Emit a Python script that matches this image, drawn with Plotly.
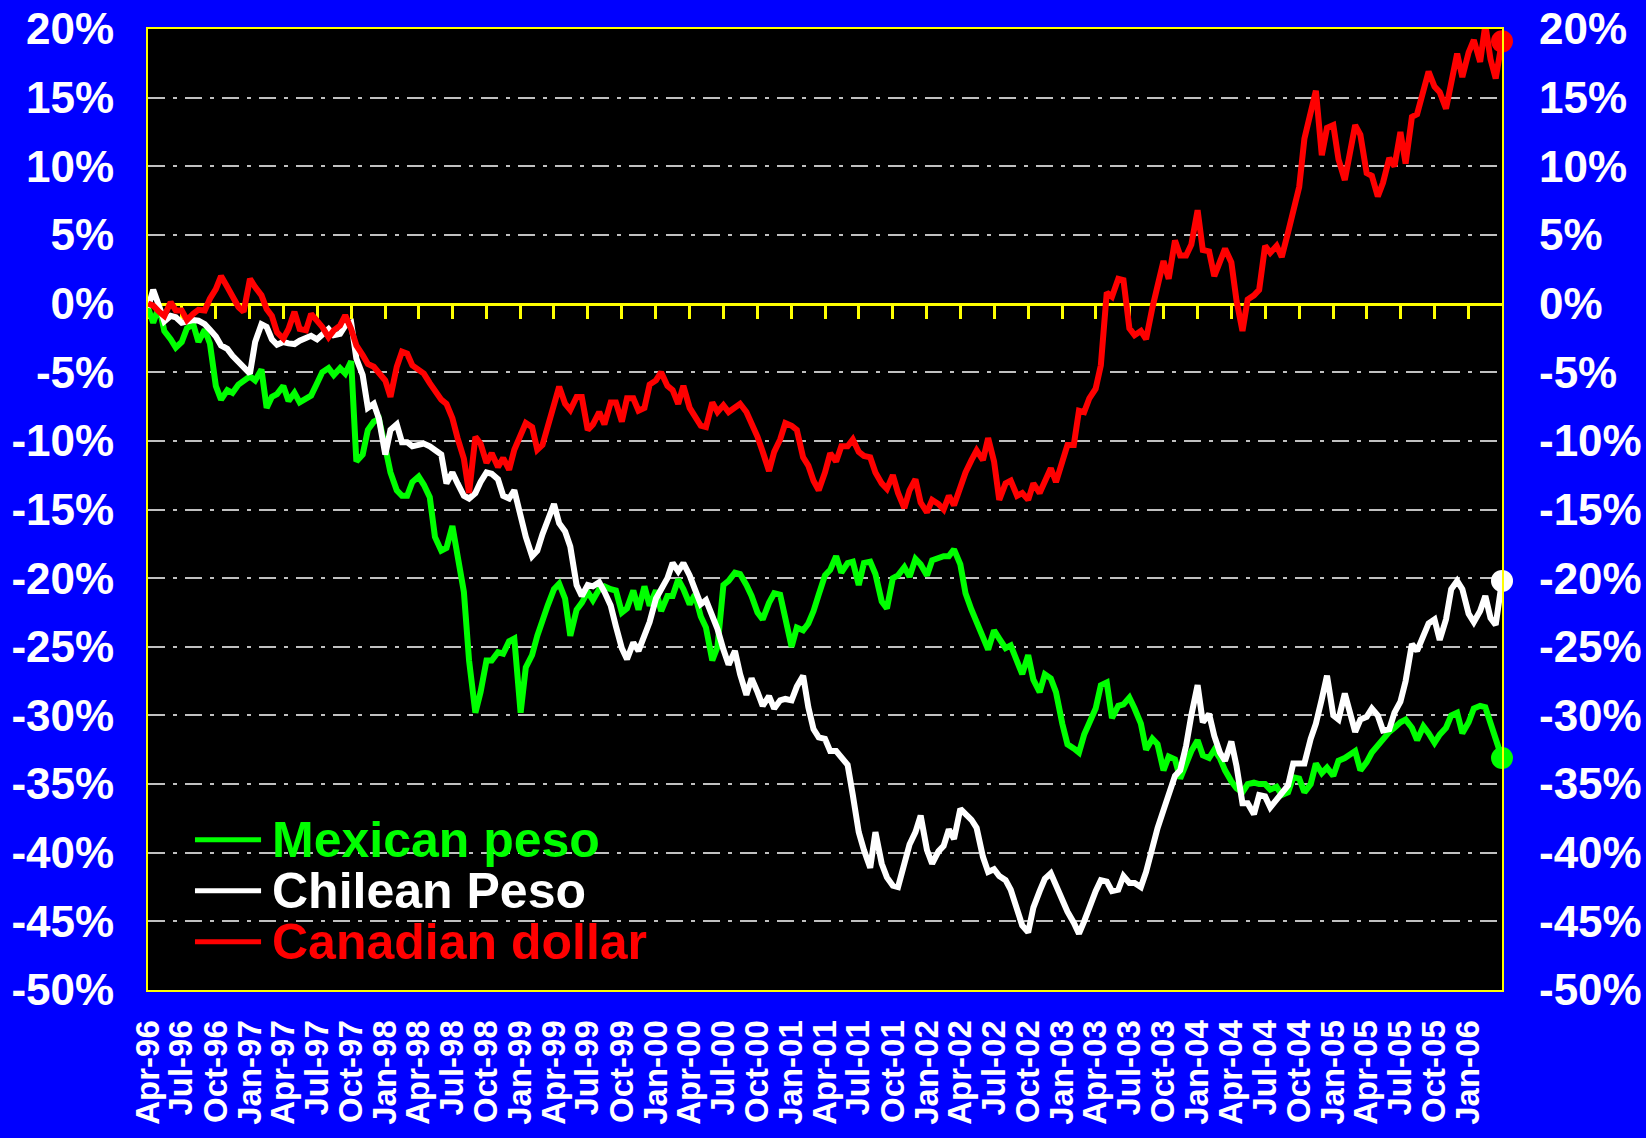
import pandas as pd
import plotly.graph_objects as go

# Semi-monthly observation calendar, Apr-96 .. Apr-06
dates = pd.date_range("1996-04-01", "2006-04-01", freq="SMS")

# % change vs. Apr-96
mexican_peso = [
    -0.3, -1.4, -0.2, -2.0, -2.6, -3.2, -2.8, -1.8, -1.5, -2.8,
    -1.9, -2.9, -6.0, -7.0, -6.3, -6.5, -5.9, -5.6, -5.3, -5.6,
    -4.8, -7.6, -6.8, -6.6, -6.0, -7.1, -6.5, -7.2, -6.9, -6.7,
    -5.8, -5.0, -4.7, -5.2, -4.7, -5.1, -4.2, -11.5, -11.0, -9.2,
    -8.6, -8.4, -10.5, -12.3, -13.6, -14.0, -14.0, -13.0, -12.6, -13.2,
    -14.1, -17.0, -18.0, -17.8, -16.2, -18.4, -21.0, -26.0, -29.8, -28.3,
    -26.0, -26.0, -25.4, -25.5, -24.6, -24.4, -29.8, -26.5, -25.6, -24.2,
    -23.0, -22.0, -20.8, -20.4, -21.5, -24.2, -22.3, -21.8, -21.0, -21.6,
    -20.8, -20.6, -20.8, -20.9, -22.5, -22.2, -20.9, -22.3, -20.6, -22.0,
    -20.9, -22.4, -21.3, -21.3, -20.1, -20.8, -21.9, -21.2, -22.8, -23.6,
    -26.0, -25.0, -20.5, -20.2, -19.6, -19.7, -20.5, -21.3, -22.5, -23.0,
    -21.8, -21.1, -21.2, -23.0, -25.0, -23.6, -23.8, -23.3, -22.4, -21.2,
    -19.8, -19.4, -18.4, -19.6, -18.9, -18.8, -20.5, -18.9, -18.8, -19.7,
    -21.7, -22.2, -20.0, -19.8, -19.2, -19.9, -18.6, -19.0, -19.8, -18.7,
    -18.5, -18.4, -18.4, -17.9, -19.0, -21.1, -22.3, -23.3, -24.3, -25.2,
    -23.8, -24.4, -25.1, -24.9, -26.0, -27.0, -25.6, -27.4, -28.3, -27.0,
    -27.3, -28.3, -30.6, -32.1, -32.4, -32.7, -31.4, -30.6, -29.5, -27.8,
    -27.6, -30.2, -29.3, -29.2, -28.7, -29.5, -30.6, -32.5, -31.7, -32.1,
    -34.0, -33.0, -33.2, -34.6, -33.4, -32.6, -31.8, -32.9, -33.1, -32.5,
    -33.1, -34.0, -34.8, -35.3, -35.6, -35.0, -34.9, -35.0, -35.0, -35.4,
    -35.2, -35.8, -35.6, -34.5, -34.6, -35.6, -35.0, -33.5, -34.2, -33.8,
    -34.4, -33.3, -33.1, -32.8, -32.6, -34.0, -33.4, -32.7, -32.2, -31.6,
    -31.2, -30.9, -30.5, -30.3, -30.9, -31.8, -30.8, -31.3, -32.0, -31.4,
    -30.9, -30.0, -29.8, -31.3, -30.5, -29.5, -29.3, -29.4, -30.6, -31.6, -33.1,
]

chilean_peso = [
    -0.3, 1.0, -0.2, -1.3, -0.9, -1.0, -1.4, -1.3, -1.2, -1.25,
    -1.5, -1.9, -2.4, -3.05, -3.3, -3.8, -4.2, -4.6, -5.1, -2.8,
    -1.5, -1.7, -2.6, -3.0, -2.8, -2.9, -2.95, -2.7, -2.5, -2.35,
    -2.6, -2.3, -1.85, -2.3, -2.2, -1.6, -1.4, -4.0, -5.2, -7.6,
    -7.3, -8.4, -11.0, -9.2, -8.8, -10.1, -10.1, -10.4, -10.3, -10.2,
    -10.4, -10.7, -11.0, -13.1, -12.3, -13.1, -14.0, -14.2, -13.8, -13.0,
    -12.3, -12.4, -12.8, -14.0, -14.2, -13.6, -15.5, -17.0, -18.4, -18.0,
    -16.8, -15.7, -14.6, -16.0, -16.6, -17.7, -20.5, -21.3, -20.5, -20.6,
    -20.3, -21.0, -22.0, -23.5, -25.1, -25.9, -24.7, -25.3, -24.1, -23.2,
    -21.5, -20.9, -20.0, -18.9, -19.5, -18.9, -19.8, -20.8, -21.9, -21.6,
    -22.8, -23.7, -25.2, -26.3, -25.3, -27.0, -28.5, -27.3, -28.3, -29.3,
    -28.6, -29.5, -28.9, -28.8, -28.9, -27.9, -27.1, -29.4, -31.0, -31.6,
    -31.7, -32.6, -32.6, -33.0, -33.6, -35.8, -38.5, -39.8, -41.1, -38.5,
    -40.8, -41.8, -42.4, -42.5, -40.6, -39.4, -38.5, -37.3, -39.8, -40.8,
    -39.9, -39.5, -38.3, -39.0, -36.8, -37.2, -37.6, -38.2, -40.3, -41.4,
    -41.2, -41.7, -42.0, -42.7, -44.1, -45.3, -45.8, -44.0, -42.8, -41.9,
    -41.5, -42.4, -43.4, -44.3, -45.1, -45.9, -45.0, -43.9, -42.8, -42.0,
    -42.1, -42.8, -42.7, -41.7, -42.2, -42.2, -42.5, -41.4, -39.5, -38.2,
    -36.9, -35.6, -34.4, -34.0, -32.2, -30.0, -27.8, -30.5, -29.9, -31.5,
    -32.7, -33.3, -31.9, -33.7, -36.4, -36.4, -37.2, -35.8, -35.9, -36.7,
    -36.1, -35.6, -35.1, -33.5, -33.5, -33.5, -31.7, -30.6, -28.8, -27.1,
    -30.0, -30.3, -28.4, -30.0, -31.2, -30.3, -30.1, -29.5, -30.0, -31.1,
    -31.0, -29.8, -29.0, -27.5, -24.8, -25.3, -24.2, -23.3, -23.0, -24.5,
    -23.0, -20.8, -20.2, -20.8, -22.6, -23.2, -22.4, -21.3, -22.9, -23.4, -20.2,
]

canadian_dollar = [
    0.0, -0.15, -0.6, -0.9, 0.1, -0.5, -0.5, -1.2, -0.75, -0.45,
    -0.5, 0.35, 1.05, 2.0, 1.2, 0.45, -0.25, -0.6, 1.8, 1.2,
    0.6, -0.4, -0.9, -2.1, -2.55, -1.85, -0.6, -1.85, -1.95, -0.75,
    -1.25, -1.7, -2.45, -1.95, -1.6, -0.85, -1.85, -3.05, -3.75, -4.4,
    -4.6, -5.1, -5.6, -6.8, -4.6, -3.5, -3.65, -4.5, -4.85, -5.1,
    -5.8, -6.4, -7.0, -7.3, -8.35, -9.8, -11.3, -13.8, -9.7, -10.2,
    -11.6, -10.9, -11.9, -11.25, -12.1, -10.65, -9.7, -8.7, -9.0, -10.65,
    -10.3, -9.0, -7.3, -6.05, -7.3, -7.75, -6.8, -6.8, -9.2, -8.8,
    -7.9, -8.8, -7.2, -7.2, -8.6, -6.9, -6.9, -7.8, -7.6, -5.9,
    -5.6, -5.0, -6.0, -6.3, -7.3, -6.0, -7.6, -8.2, -8.9, -9.0,
    -7.2, -7.9, -7.4, -7.9, -7.5, -7.3, -7.9, -8.7, -9.7, -10.8,
    -12.2, -10.8, -9.9, -8.7, -8.9, -9.2, -11.2, -11.8, -12.9, -13.6,
    -12.3, -10.9, -11.5, -10.4, -10.4, -9.9, -10.8, -11.1, -11.2, -12.3,
    -13.1, -13.5, -12.5, -13.8, -14.9, -13.6, -12.8, -14.5, -15.2, -14.3,
    -14.6, -15.0, -14.0, -14.7, -13.2, -12.3, -11.4, -10.7, -11.4, -9.8,
    -11.5, -14.3, -13.1, -12.9, -14.0, -13.8, -14.3, -13.1, -13.8, -13.0,
    -12.0, -13.0, -11.5, -10.3, -10.3, -7.8, -7.9, -6.9, -6.2, -4.5,
    0.8, 0.5, 1.8, 1.7, -1.8, -2.3, -2.0, -2.6, -0.3, 1.1,
    3.1, 1.8, 4.6, 3.5, 3.5, 4.3, 6.8, 3.9, 3.8, 2.0,
    3.1, 4.0, 3.0, 0.2, -2.0, 0.3, 0.6, 1.0, 4.2, 3.7,
    4.2, 3.4, 5.2, 6.8, 8.5, 12.0, 14.0, 15.5, 10.8, 12.8,
    13.0, 10.5, 9.0, 10.8, 13.0, 12.3, 9.5, 9.3, 7.8, 8.8,
    10.6, 10.0, 12.5, 10.2, 13.6, 13.8, 15.5, 16.9, 15.8, 15.4,
    14.2, 16.3, 18.2, 16.5, 18.3, 19.2, 17.6, 20.3, 17.8, 16.4, 19.1,
]

series_names = ["Mexican peso", "Chilean Peso", "Canadian dollar"]
series_colors = ["#00ff00", "#ffffff", "#ff0000"]
series_values = [mexican_peso, chilean_peso, canadian_dollar]

x_tick_dates = pd.date_range("1996-04-01", "2006-01-01", freq="3MS")
x_tick_text = [d.strftime("%b-%y") for d in x_tick_dates]
y_tick_vals = list(range(-50, 25, 5))
y_tick_text = [f"{v}%" for v in y_tick_vals]

FONT = "Liberation Sans, Arial, sans-serif"
X_RANGE = ["1996-04-01", "2006-04-01"]
Y_RANGE = [-50, 20]

fig = go.Figure()
for name, color, vals in zip(series_names, series_colors, series_values):
    fig.add_trace(go.Scatter(x=dates, y=vals, mode="lines", name=name,
                             line=dict(color=color, width=6), showlegend=False))

# end-point dots
fig.add_trace(go.Scatter(
    x=[dates[-1]] * 3, y=[v[-1] for v in series_values], mode="markers",
    marker=dict(color=series_colors, size=22), xaxis="x2", yaxis="y2",
    cliponaxis=False, showlegend=False))

# legend (text + sample lines on a black box)
row_y = [0.1564, 0.1034, 0.0503]
shapes = [dict(type="rect", xref="paper", yref="paper", x0=0.011, x1=0.396,
               y0=0.024, y1=0.196, fillcolor="black", line=dict(width=0),
               layer="between")]
annotations = []
for name, color, yy in zip(series_names, series_colors, row_y):
    shapes.append(dict(type="line", xref="paper", yref="paper", x0=0.0347,
                       x1=0.0835, y0=yy, y1=yy,
                       line=dict(color=color, width=5)))
    annotations.append(dict(text=name, xref="paper", yref="paper", x=0.0899,
                            y=yy, xanchor="left", yanchor="middle",
                            showarrow=False,
                            font=dict(family=FONT, size=50, color=color,
                                      weight="bold")))

grid_dash = "17px,8px,4px,8px"
fig.update_layout(
    width=1646, height=1138,
    margin=dict(l=148, r=144, t=29, b=148, autoexpand=False),
    paper_bgcolor="#0000ff", plot_bgcolor="#000000",
    shapes=shapes, annotations=annotations,
    xaxis=dict(type="date", range=X_RANGE, tickvals=x_tick_dates,
               ticktext=x_tick_text, tickangle=-90, ticks="",
               tickfont=dict(family=FONT, size=33, color="white", weight="bold"),
               showgrid=False, zeroline=False, showline=True,
               linecolor="#ffff00", linewidth=2, mirror=True,
               ticklabelstandoff=15, automargin=False),
    xaxis2=dict(type="date", range=X_RANGE, overlaying="x", anchor="free",
                position=50 / 70, side="bottom", tickvals=x_tick_dates,
                showticklabels=False, ticks="outside", ticklen=13,
                tickwidth=3, tickcolor="#ffff00", showline=True,
                linecolor="#ffff00", linewidth=3, showgrid=False,
                zeroline=False, layer="below traces", automargin=False),
    yaxis=dict(range=Y_RANGE, tickvals=y_tick_vals, ticktext=y_tick_text,
               ticks="", tickfont=dict(family=FONT, size=44, color="white",
                                       weight="bold"),
               showgrid=True, gridcolor="#c0c0c0", gridwidth=2,
               griddash=grid_dash, zeroline=False, showline=True,
               linecolor="#ffff00", linewidth=2, mirror=True,
               ticklabelstandoff=23, automargin=False),
    yaxis2=dict(range=Y_RANGE, overlaying="y", side="right",
                tickvals=y_tick_vals, ticktext=y_tick_text, ticks="",
                tickfont=dict(family=FONT, size=44, color="white",
                              weight="bold"),
                showgrid=False, zeroline=False, showline=False,
                ticklabelstandoff=36, automargin=False),
)

fig.write_html("out.html",
               config={"displayModeBar": False},
               post_script="document.body.style.margin='0';"
                           "document.body.style.overflow='hidden';")
